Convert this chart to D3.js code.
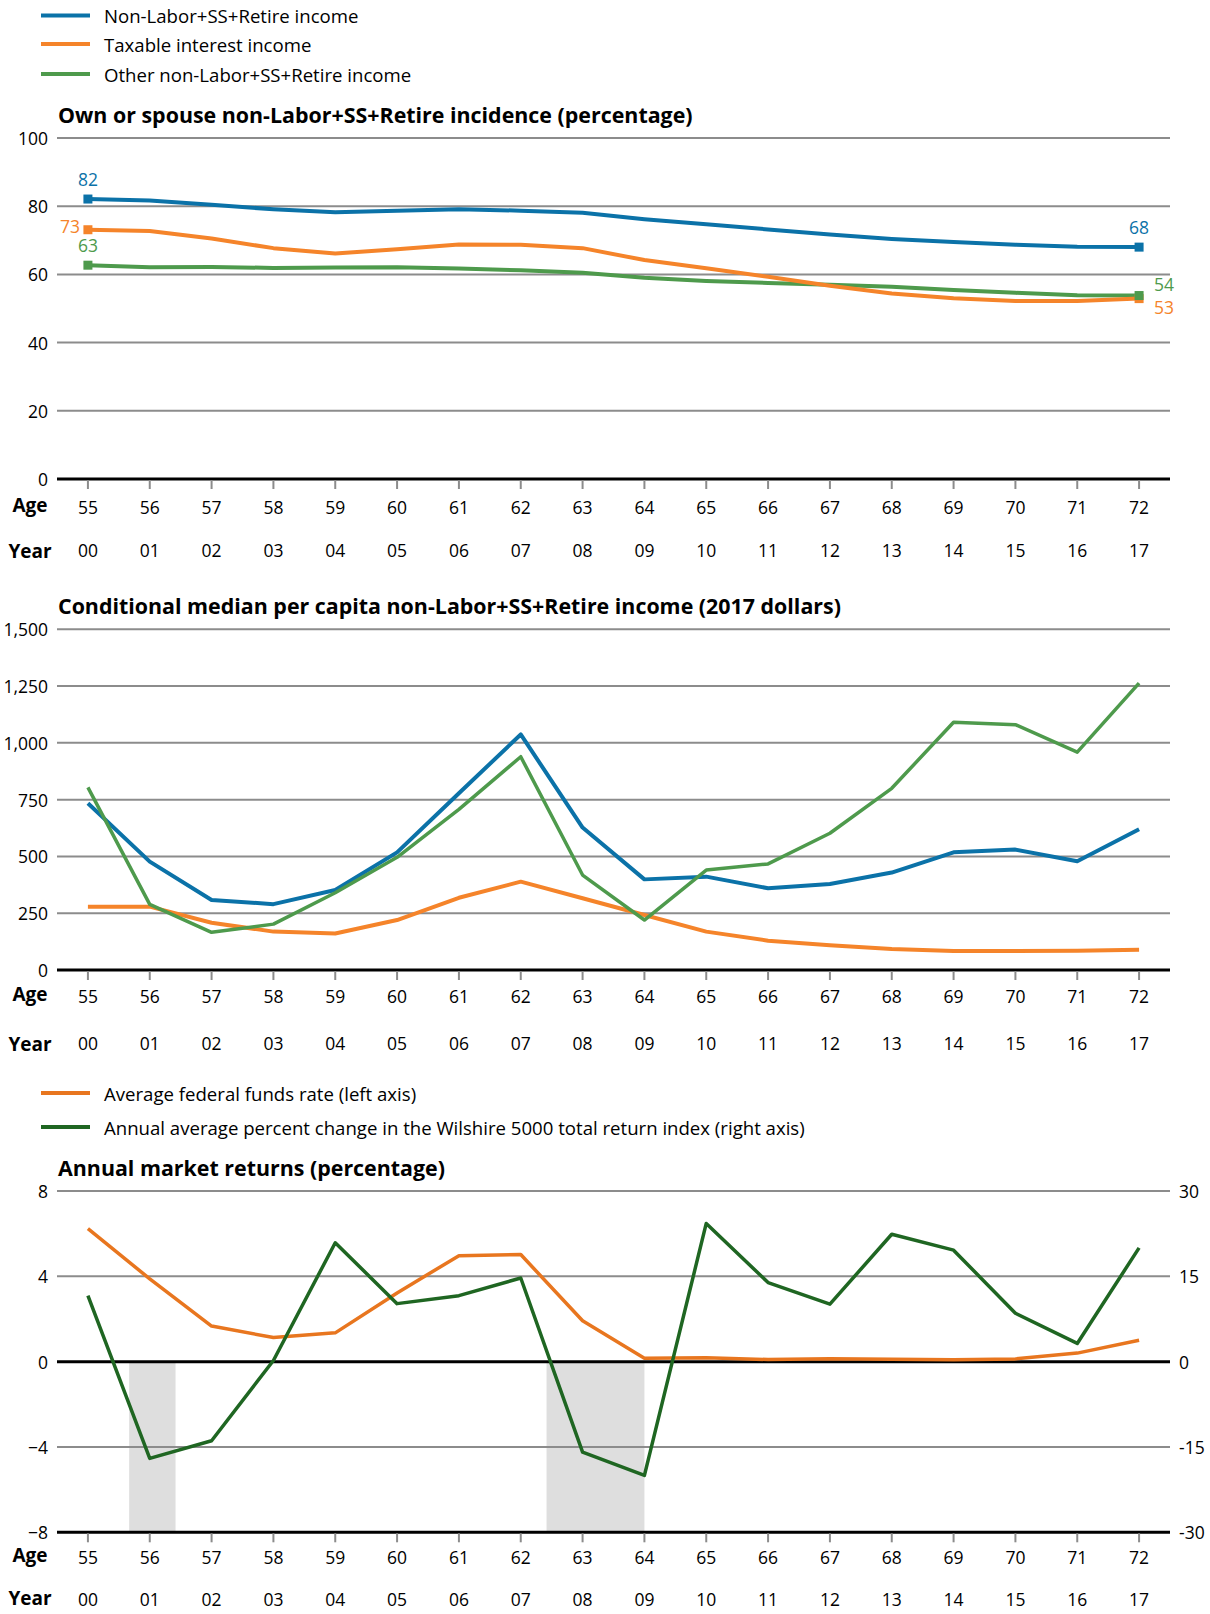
<!DOCTYPE html>
<html><head><meta charset="utf-8">
<script src="https://cdn.jsdelivr.net/npm/d3@7"></script>
<style>
body{margin:0;background:#fff;}
svg text{font-family:"Open Sans",sans-serif;fill:#000;}
</style></head><body>
<svg id="c" width="1210" height="1614"></svg>
<script>
// ---------- data ----------
const ages  = ["55","56","57","58","59","60","61","62","63","64","65","66","67","68","69","70","71","72"];
const years = ["00","01","02","03","04","05","06","07","08","09","10","11","12","13","14","15","16","17"];

// Panel 1: incidence (percentage)
const incTotal   = [82.1,81.7,80.4,79.1,78.2,78.7,79.1,78.7,78.1,76.2,74.7,73.2,71.7,70.4,69.5,68.7,68.1,68.0];
const incTaxable = [73.1,72.7,70.5,67.7,66.1,67.4,68.8,68.7,67.7,64.2,61.8,59.3,56.7,54.4,53.0,52.2,52.2,52.9];
const incOther   = [62.7,62.1,62.2,61.9,62.0,62.1,61.7,61.2,60.5,59.0,58.1,57.5,57.0,56.4,55.4,54.6,53.9,53.8];
const incTicks   = [0,20,40,60,80,100];

// Panel 2: conditional median (2017 dollars)
const medTotal   = [734,477,308,290,352,518,778,1037,627,399,411,360,379,429,518,530,479,620];
const medTaxable = [279,279,208,169,161,220,318,389,316,242,169,129,109,92,84,84,85,89];
const medOther   = [804,289,166,202,340,496,707,939,418,220,440,467,602,800,1091,1080,959,1263];
const medTicks   = [0,250,500,750,1000,1250,1500];

// Panel 3: annual market returns
const fedFunds   = [6.24,3.88,1.67,1.13,1.35,3.22,4.97,5.02,1.92,0.16,0.18,0.10,0.14,0.11,0.09,0.13,0.40,1.00];
const wilshire   = [11.6,-17.0,-13.9,0.2,20.9,10.2,11.6,14.7,-15.9,-20.0,24.3,13.9,10.1,22.4,19.6,8.5,3.2,20.0];
const leftTicks  = [-8,-4,0,4,8];
const rightTicks = [-30,-15,0,15,30];
// recessions as fractional calendar years
const recessions = [[2001.167,2001.917],[2007.917,2009.5]];

const legend1 = ["Non-Labor+SS+Retire income","Taxable interest income","Other non-Labor+SS+Retire income"];
const legend3 = ["Average federal funds rate (left axis)","Annual average percent change in the Wilshire 5000 total return index (right axis)"];
const titles  = ["Own or spouse non-Labor+SS+Retire incidence (percentage)",
                 "Conditional median per capita non-Labor+SS+Retire income (2017 dollars)",
                 "Annual market returns (percentage)"];

// ---------- styles ----------
const BLUE="#0b72a8", ORANGE="#f5842a", GREEN="#4e9a4c", ORANGE3="#e8761f", DKGREEN="#1f6622";
const GRID="#8c8c8c";
const FS=17.5, LFS=18.6, TFS=21.4;

const svg = d3.select("#c");
const X0=57, X1=1170;
const x = d3.scalePoint().domain(ages).range([X0,X1]).padding(0.5);
const xi = d3.scaleLinear().domain([0,ages.length-1]).range([x(ages[0]), x(ages[ages.length-1])]);

function legend(items, colors, ys, sw){
  items.forEach((t,i)=>{
    svg.append("line").attr("x1",41).attr("x2",90).attr("y1",ys[i]).attr("y2",ys[i])
      .attr("stroke",colors[i]).attr("stroke-width",sw);
    svg.append("text").attr("x",104).attr("y",ys[i]).attr("dominant-baseline","central")
      .attr("font-size",LFS).text(t);
  });
}
function title(t,y){
  svg.append("text").attr("x",58).attr("y",y).attr("dominant-baseline","central")
    .attr("font-size",TFS).attr("font-weight","bold").text(t);
}
function grid(y, ticks, fmt, baseVal, bottomBlack){
  ticks.forEach(v=>{
    const isBase = v===baseVal, isBottom = bottomBlack && v===d3.min(ticks);
    svg.append("line").attr("x1",X0).attr("x2",X1).attr("y1",y(v)).attr("y2",y(v))
      .attr("stroke", (isBase||isBottom)?"#000":GRID).attr("stroke-width",(isBase||isBottom)?3:2);
    svg.append("text").attr("x",48).attr("y",y(v)).attr("text-anchor","end")
      .attr("dominant-baseline","central").attr("font-size",FS).text(fmt(v));
  });
}
function xaxis(yAxis, ageY, yearY, yearLabelDy){
  ages.forEach((a,i)=>{
    svg.append("line").attr("x1",x(a)).attr("x2",x(a)).attr("y1",yAxis+1).attr("y2",yAxis+10)
      .attr("stroke",GRID).attr("stroke-width",2);
    svg.append("text").attr("x",x(a)).attr("y",ageY).attr("text-anchor","middle")
      .attr("dominant-baseline","central").attr("font-size",FS).text(a);
    svg.append("text").attr("x",x(a)).attr("y",yearY).attr("text-anchor","middle")
      .attr("dominant-baseline","central").attr("font-size",FS).text(years[i]);
  });
  svg.append("text").attr("x",30).attr("y",ageY-2).attr("text-anchor","middle")
    .attr("dominant-baseline","central").attr("font-size",FS+1.5).attr("font-weight","bold").text("Age");
  svg.append("text").attr("x",30).attr("y",yearY+yearLabelDy).attr("text-anchor","middle")
    .attr("dominant-baseline","central").attr("font-size",FS+1.5).attr("font-weight","bold").text("Year");
}
function series(vals, y, color, w){
  const line = d3.line().x((d,i)=>x(ages[i])).y(d=>y(d));
  svg.append("path").attr("d",line(vals)).attr("fill","none").attr("stroke",color)
    .attr("stroke-width",w).attr("stroke-linejoin","round");
}

// ---------- legend 1 ----------
legend(legend1,[BLUE,ORANGE,GREEN],[15.5,44,74],4);

// ---------- panel 1 ----------
title(titles[0],114);
const y1 = d3.scaleLinear().domain([0,100]).range([479,138]);
grid(y1, incTicks, d3.format("d"), 0, false);
xaxis(479, 507, 550, 1);
series(incOther, y1, GREEN, 4);
series(incTaxable, y1, ORANGE, 4);
series(incTotal, y1, BLUE, 4);
const endLabels = [
  {vals:incTotal, c:BLUE,   first:[0,-20,"middle"], last:[0,-20,"middle"]},
  {vals:incTaxable, c:ORANGE, first:[-8,-4,"end"], last:[15,8,"start"]},
  {vals:incOther, c:GREEN,  first:[0,-20,"middle"], last:[15,-12,"start"]},
];
endLabels.forEach(s=>{
  [[0,s.first],[ages.length-1,s.last]].forEach(([i,o])=>{
    const px=x(ages[i]), py=y1(s.vals[i]);
    svg.append("rect").attr("x",px-4.5).attr("y",py-4.5).attr("width",9).attr("height",9).attr("fill",s.c);
    svg.append("text").attr("x",px+o[0]).attr("y",py+o[1]).attr("text-anchor",o[2])
      .attr("dominant-baseline","central").attr("font-size",FS).style("fill",s.c)
      .text(Math.round(s.vals[i]));
  });
});

// ---------- panel 2 ----------
title(titles[1],605);
const y2 = d3.scaleLinear().domain([0,1500]).range([970,629.3]);
grid(y2, medTicks, d3.format(","), 0, false);
xaxis(970, 996, 1043, 1);
series(medTotal, y2, BLUE, 4);
series(medTaxable, y2, ORANGE, 4);
series(medOther, y2, GREEN, 3.5);

// ---------- legend 3 ----------
legend(legend3,[ORANGE3,DKGREEN],[1093,1127],4);

// ---------- panel 3 ----------
title(titles[2],1167);
const y3 = d3.scaleLinear().domain([-8,8]).range([1532.3,1191]);
const y3r = d3.scaleLinear().domain([-30,30]).range([1532.3,1191]);
recessions.forEach(([s,e])=>{
  const xs = xi(s-2000.5), xe = xi(e-2000.5);
  svg.append("rect").attr("x",xs).attr("y",y3(0)).attr("width",xe-xs).attr("height",y3(-8)-y3(0))
    .attr("fill","#dedede");
});
grid(y3, leftTicks, d3.format("d"), 0, true);
rightTicks.forEach(v=>{
  svg.append("text").attr("x",1179).attr("y",y3r(v)).attr("dominant-baseline","central")
    .attr("font-size",FS).text(v);
});
xaxis(1532.3, 1557, 1599, -1);
series(fedFunds, y3, ORANGE3, 3.5);
series(wilshire, y3r, DKGREEN, 3.5);
</script>
</body></html>
